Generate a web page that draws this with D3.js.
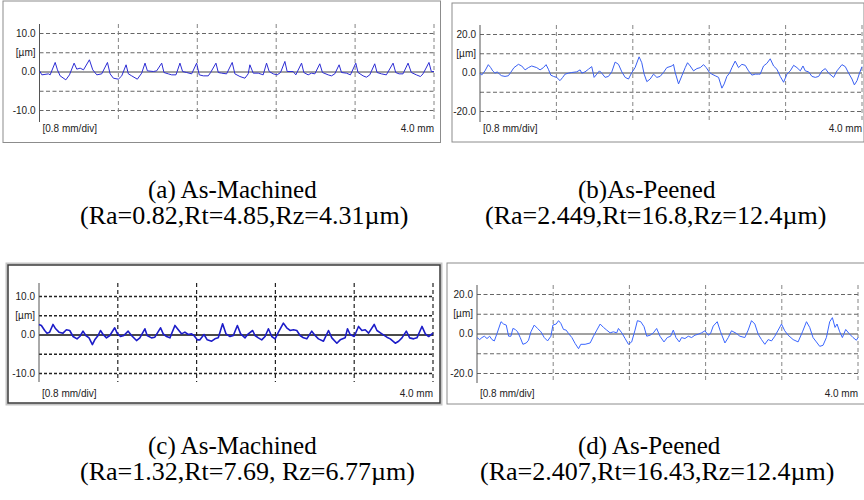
<!DOCTYPE html>
<html>
<head>
<meta charset="utf-8">
<title>Surface roughness profiles</title>
<script src="https://d3js.org/d3.v7.min.js"></script>
<style>
  body { margin:0; background:#fff; }
  .lbl { font-family:"Liberation Sans Narrow","Liberation Sans",Arial,sans-serif; font-size:10px; fill:#222; }
  .cap { font-family:"Liberation Serif","Times New Roman",serif; font-size:25px; fill:#000; }
  .cap2 { font-size:26px; }
</style>
</head>
<body>
<svg id="fig" width="864" height="500"></svg>
<script>
// profile data: position along trace (mm) and height (um)
var aX = [0,0.024,0.091,0.108,0.159,0.182,0.209,0.267,0.304,0.351,0.378,0.412,0.446,0.506,0.540,0.581,0.631,0.689,0.716,0.749,0.800,0.834,0.878,0.901,0.935,0.992,1.036,1.070,1.094,1.154,1.188,1.239,1.262,1.306,1.340,1.384,1.424,1.451,1.492,1.543,1.593,1.620,1.661,1.711,1.735,1.789,1.813,1.846,1.897,1.954,1.981,2.032,2.083,2.116,2.133,2.167,2.218,2.268,2.302,2.329,2.370,2.410,2.444,2.488,2.511,2.572,2.599,2.657,2.680,2.724,2.758,2.792,2.842,2.869,2.927,2.960,2.994,3.038,3.062,3.112,3.153,3.207,3.230,3.281,3.315,3.349,3.399,3.423,3.467,3.517,3.585,3.612,3.646,3.686,3.737,3.770,3.821,3.862,3.889,3.949,3.973,4.000];
var aY = [0.17,-0.87,-0.61,-0.87,2.35,0.43,-1.13,-2.17,-0.87,2.17,0.61,0.87,0.43,3.04,0.43,-0.87,-0.61,2.35,-0.61,-1.74,-2.00,-1.13,1.74,-0.61,-1.13,-2.00,-0.43,2.17,0.17,0.00,0.17,2.17,-0.26,-0.61,-0.87,-0.87,2.17,0.00,-0.26,-0.61,2.17,-0.87,-1.13,-1.13,-0.26,2.17,-0.26,-0.43,-0.61,2.35,-0.61,-1.30,-1.74,-0.61,1.74,-0.43,-0.43,-0.87,2.17,0.00,-0.61,-0.87,-0.26,2.61,0.00,0.00,-0.87,2.17,-0.26,-0.87,-0.43,-0.61,2.00,-0.26,-0.87,-1.13,-0.61,1.74,-0.26,-0.43,-0.87,2.17,-0.26,-1.13,-1.48,-0.87,2.00,-0.26,-0.61,-0.87,2.17,-0.26,-0.61,-0.61,2.17,-0.26,-0.87,-1.30,-0.61,2.35,0.00,0.00];

var bX = [0,0.017,0.052,0.087,0.112,0.133,0.157,0.182,0.203,0.227,0.262,0.297,0.321,0.356,0.402,0.437,0.472,0.507,0.541,0.594,0.629,0.664,0.692,0.716,0.741,0.769,0.803,0.838,0.866,0.891,0.926,0.961,1.013,1.048,1.066,1.100,1.135,1.170,1.195,1.223,1.251,1.275,1.310,1.345,1.380,1.415,1.450,1.485,1.520,1.555,1.590,1.624,1.666,1.694,1.719,1.747,1.782,1.817,1.852,1.886,1.921,1.956,2.009,2.026,2.044,2.079,2.114,2.149,2.173,2.201,2.236,2.271,2.306,2.341,2.369,2.403,2.428,2.463,2.498,2.533,2.557,2.585,2.613,2.638,2.672,2.707,2.742,2.777,2.812,2.847,2.882,2.917,2.934,2.969,3.004,3.039,3.074,3.109,3.144,3.179,3.214,3.249,3.284,3.319,3.354,3.382,3.406,3.441,3.476,3.511,3.546,3.581,3.616,3.651,3.703,3.738,3.790,3.825,3.860,3.895,3.920,3.948,3.976,4.000];
var bY = [-0.34,-1.36,0.85,4.07,2.54,0.85,-0.34,0.34,-0.85,-1.69,-2.03,-1.69,0.00,2.54,4.24,3.39,1.36,2.54,3.39,2.54,1.36,2.54,4.07,1.69,-1.36,-2.03,-2.54,-4.24,-2.54,-0.85,-0.34,0.00,0.34,1.36,-0.34,0.34,1.69,3.05,-2.54,-0.85,0.85,-0.34,-2.54,-2.03,0.34,5.42,4.24,0.34,-2.54,-3.39,0.00,2.54,8.14,5.08,-0.85,-4.75,-3.39,-0.85,-2.54,-2.03,0.00,2.54,3.39,4.24,0.00,-5.93,-1.69,2.54,5.08,3.39,0.85,2.03,2.54,4.07,2.54,0.00,-0.85,-1.69,-2.54,-8.14,-5.93,-2.03,-0.34,2.54,5.93,2.54,4.24,3.73,0.85,-1.36,-0.85,-0.85,-0.85,3.39,4.75,7.12,3.39,1.69,-2.03,-5.08,-0.85,0.85,3.73,2.54,0.85,3.39,0.85,0.34,-2.03,-2.54,-2.03,0.85,2.03,-0.34,-2.54,0.85,4.07,3.05,-0.34,-3.39,-6.44,-4.24,0.00,3.05];

var cX = [0,0.024,0.058,0.081,0.108,0.142,0.169,0.203,0.244,0.278,0.312,0.346,0.386,0.414,0.447,0.475,0.508,0.542,0.566,0.600,0.624,0.651,0.685,0.719,0.769,0.793,0.827,0.861,0.905,0.939,0.990,1.024,1.075,1.098,1.142,1.176,1.234,1.261,1.295,1.329,1.380,1.414,1.447,1.481,1.515,1.549,1.573,1.607,1.634,1.675,1.708,1.753,1.786,1.820,1.864,1.898,1.939,1.973,2.014,2.047,2.092,2.125,2.169,2.193,2.227,2.261,2.295,2.329,2.363,2.397,2.431,2.481,2.515,2.549,2.583,2.617,2.651,2.685,2.719,2.769,2.803,2.837,2.888,2.939,2.973,3.024,3.058,3.108,3.132,3.159,3.200,3.244,3.278,3.312,3.346,3.403,3.431,3.481,3.532,3.566,3.617,3.651,3.685,3.729,3.763,3.803,3.837,3.888,3.922,3.956,4.000];
var cY = [2.61,2.35,1.04,0.35,0.61,2.61,1.48,0.61,0.35,1.22,1.04,-0.52,-1.13,-0.52,0.87,-0.26,-0.87,-2.61,-1.39,-0.26,1.04,0.00,-0.87,-0.26,1.74,0.35,-0.52,-0.26,0.87,-0.26,-1.57,-0.87,1.48,-0.26,-0.87,-0.70,1.74,0.17,-0.52,-0.87,2.35,1.22,0.17,0.61,0.00,0.17,-0.26,-1.39,-1.39,0.00,-1.39,-1.74,-1.13,-0.87,2.78,0.17,-0.52,-0.26,2.35,0.17,-0.87,0.17,1.04,-0.26,-0.87,-1.39,-0.52,1.48,-0.52,-1.13,0.61,2.96,1.74,1.04,1.22,1.04,-0.26,-0.87,-1.13,0.87,-0.26,-1.13,-1.74,1.04,-0.87,-2.26,-1.39,-0.87,1.48,0.00,-0.52,2.09,1.04,1.22,0.35,2.61,1.04,0.17,-0.70,-1.13,-2.26,-1.74,-0.87,0.87,-0.87,-1.13,-0.87,2.09,0.17,-0.52,0.35];

var dX = [0,0.028,0.052,0.077,0.105,0.133,0.157,0.182,0.210,0.252,0.279,0.307,0.332,0.356,0.377,0.402,0.426,0.454,0.482,0.517,0.541,0.566,0.601,0.636,0.671,0.706,0.741,0.776,0.797,0.831,0.856,0.880,0.908,0.936,0.961,0.996,1.031,1.066,1.090,1.135,1.188,1.223,1.258,1.293,1.328,1.362,1.397,1.432,1.467,1.485,1.520,1.555,1.590,1.624,1.659,1.684,1.719,1.754,1.782,1.817,1.852,1.886,1.921,1.963,1.998,2.033,2.061,2.089,2.124,2.148,2.183,2.218,2.253,2.288,2.323,2.358,2.393,2.428,2.452,2.480,2.522,2.557,2.603,2.638,2.672,2.725,2.760,2.812,2.847,2.882,2.917,2.952,2.987,3.022,3.057,3.092,3.127,3.162,3.197,3.231,3.266,3.319,3.371,3.417,3.459,3.493,3.528,3.563,3.598,3.633,3.668,3.703,3.731,3.759,3.780,3.808,3.836,3.871,3.906,3.948,3.983,4.000];
var dY = [-2.05,-3.08,-2.05,-1.37,-2.56,-1.37,-3.08,-3.76,0.00,5.98,4.79,4.27,-1.37,-1.37,2.56,2.05,0.85,-2.05,-5.47,-4.79,-3.42,0.85,4.27,2.56,0.85,-2.05,-3.76,-1.37,4.27,4.79,6.50,5.13,2.05,1.71,0.00,-2.05,-5.13,-7.69,-5.47,-5.47,-4.79,-1.37,1.71,4.79,3.08,1.71,0.34,0.85,0.34,2.56,0.34,-2.56,-5.47,-4.27,1.71,6.50,5.98,3.42,-1.37,-0.85,0.34,2.56,-1.37,-4.27,-2.05,-1.37,1.71,-2.05,-4.27,-2.05,-2.56,-1.37,-2.05,-0.85,-0.34,0.34,1.37,-0.85,0.00,3.76,5.98,0.85,-4.79,-2.05,1.37,0.00,-1.37,-2.05,1.71,6.50,4.79,-0.34,-3.08,-5.47,-3.08,-3.76,-1.37,1.71,4.79,1.37,-0.85,-3.08,-4.27,0.85,5.98,3.08,-2.05,-4.27,-6.50,-5.98,-2.05,5.98,8.03,3.08,4.79,0.85,-2.05,2.05,0.00,-2.05,-3.42,-2.05];

// axis ticks and labels
var xGridMM = [0.8, 1.6, 2.4, 3.2, 4.0];
var yTicksSmall = [10, 5, 0, -5, -10];
var yLabelsSmall = ["10.0", "[\u00b5m]", "0.0", "", "-10.0"];
var yTicksLarge = [20, 10, 0, -10, -20];
var yLabelsLarge = ["20.0", "[\u00b5m]", "0.0", "", "-20.0"];
var xLeftLabel = "[0.8 mm/div]";
var xRightLabel = "4.0 mm";

var captions = [
  ["(a) As-Machined", "(Ra=0.82,Rt=4.85,Rz=4.31\u00b5m)"],
  ["(b)As-Peened", "(Ra=2.449,Rt=16.8,Rz=12.4\u00b5m)"],
  ["(c) As-Machined", "(Ra=1.32,Rt=7.69, Rz=6.77\u00b5m)"],
  ["(d) As-Peened", "(Ra=2.407,Rt=16.43,Rz=12.4\u00b5m)"]
];

var svg = d3.select("#fig");

// layout of the four screen grabs
var panels = [
  {xs:aX, ys:aY, ticks:yTicksSmall, labels:yLabelsSmall, lim:10,
   frame:[3,1,437.5,141.5], px:[39.5,434], py:[33,110], ext:[24,122], lab:132,
   color:"#2c2cd4", lw:1, heavy:false, cap:captions[0], cx:[148,80], cy:[198,224]},
  {xs:bX, ys:bY, ticks:yTicksLarge, labels:yLabelsLarge, lim:20,
   frame:[452,3,412,139], px:[480,862], py:[34,111], ext:[25,122], lab:132,
   color:"#3a60f2", lw:1, heavy:false, cap:captions[1], cx:[578,485], cy:[198,224]},
  {xs:cX, ys:cY, ticks:yTicksSmall, labels:yLabelsSmall, lim:10,
   frame:[8,265,432,138], px:[39,433], py:[296,373], ext:[283,382], lab:397,
   color:"#1c1cc8", lw:1.6, heavy:true, cap:captions[2], cx:[148,80], cy:[454,480]},
  {xs:dX, ys:dY, ticks:yTicksLarge, labels:yLabelsLarge, lim:20,
   frame:[447,263,419,141], px:[477,858], py:[294,373], ext:[285,383], lab:397,
   color:"#3a66ff", lw:1, heavy:false, cap:captions[3], cx:[578,480], cy:[454,480]}
];

panels.forEach(function(p) {
  var g = svg.append("g");

  if (p.heavy) {
    g.append("rect")
      .attr("x", p.frame[0] - 1.5).attr("y", p.frame[1] - 1.5)
      .attr("width", p.frame[2] + 3).attr("height", p.frame[3] + 3)
      .attr("fill", "none").attr("stroke", "#c4c4c4").attr("stroke-width", 2);
  }
  g.append("rect")
    .attr("x", p.frame[0]).attr("y", p.frame[1])
    .attr("width", p.frame[2]).attr("height", p.frame[3])
    .attr("fill", "#fff")
    .attr("stroke", p.heavy ? "#3a3a3a" : "#8c8c8c")
    .attr("stroke-width", p.heavy ? 1.5 : 1);

  var x = d3.scaleLinear().domain([0, 4]).range(p.px);
  var y = d3.scaleLinear().domain([-p.lim, p.lim]).range([p.py[1], p.py[0]]);

  // horizontal grid + tick labels
  var yAxis = d3.axisLeft(y)
    .tickValues(p.ticks)
    .tickSizeInner(-(p.px[1] - p.px[0]))
    .tickSizeOuter(0)
    .tickPadding(4)
    .tickFormat(function(d, i) { return p.labels[i]; });
  var ya = g.append("g")
    .attr("transform", "translate(" + p.px[0] + ",0)")
    .call(yAxis);
  ya.select(".domain").remove();
  ya.selectAll("text").attr("class", "lbl").attr("fill", null).attr("font-size", null).attr("font-family", null);
  ya.selectAll("line")
    .attr("stroke", function(d) { return d === 0 ? (p.heavy ? "#4a4a4a" : "#444") : (p.heavy ? "#222" : "#555"); })
    .attr("stroke-width", function(d) { return d === 0 ? (p.heavy ? 1.8 : 1) : (p.heavy ? 1.3 : 0.9); })
    .attr("stroke-dasharray", function(d) { return d === 0 ? null : (p.heavy ? "3,2" : "4,2.5"); });

  // vertical division lines
  g.selectAll(".vgrid")
    .data(xGridMM)
    .enter().append("line")
    .attr("x1", function(d) { return x(d); })
    .attr("x2", function(d) { return x(d); })
    .attr("y1", p.ext[0]).attr("y2", p.ext[1])
    .attr("stroke", p.heavy ? "#222" : "#777")
    .attr("stroke-width", p.heavy ? 1.2 : 0.9)
    .attr("stroke-dasharray", "4,3");

  // vertical axis line
  g.append("line")
    .attr("x1", p.px[0]).attr("x2", p.px[0])
    .attr("y1", p.ext[0]).attr("y2", p.ext[1])
    .attr("stroke", "#555").attr("stroke-width", 1);

  // profile trace
  var line = d3.line()
    .x(function(d, i) { return x(p.xs[i]); })
    .y(function(d) { return y(d); });
  g.append("path")
    .datum(p.ys)
    .attr("d", line)
    .attr("fill", "none")
    .attr("stroke", p.color)
    .attr("stroke-width", p.lw)
    .attr("stroke-linejoin", "round");

  g.append("text").attr("class", "lbl")
    .attr("x", x(0) + 3).attr("y", p.lab)
    .text(xLeftLabel);
  g.append("text").attr("class", "lbl")
    .attr("x", x(4)).attr("y", p.lab)
    .attr("text-anchor", "end")
    .text(xRightLabel);

  // caption below the panel
  svg.append("text").attr("class", "cap")
    .attr("x", p.cx[0]).attr("y", p.cy[0]).text(p.cap[0]);
  svg.append("text").attr("class", "cap cap2")
    .attr("x", p.cx[1]).attr("y", p.cy[1]).text(p.cap[1]);
});
</script>
</body>
</html>
